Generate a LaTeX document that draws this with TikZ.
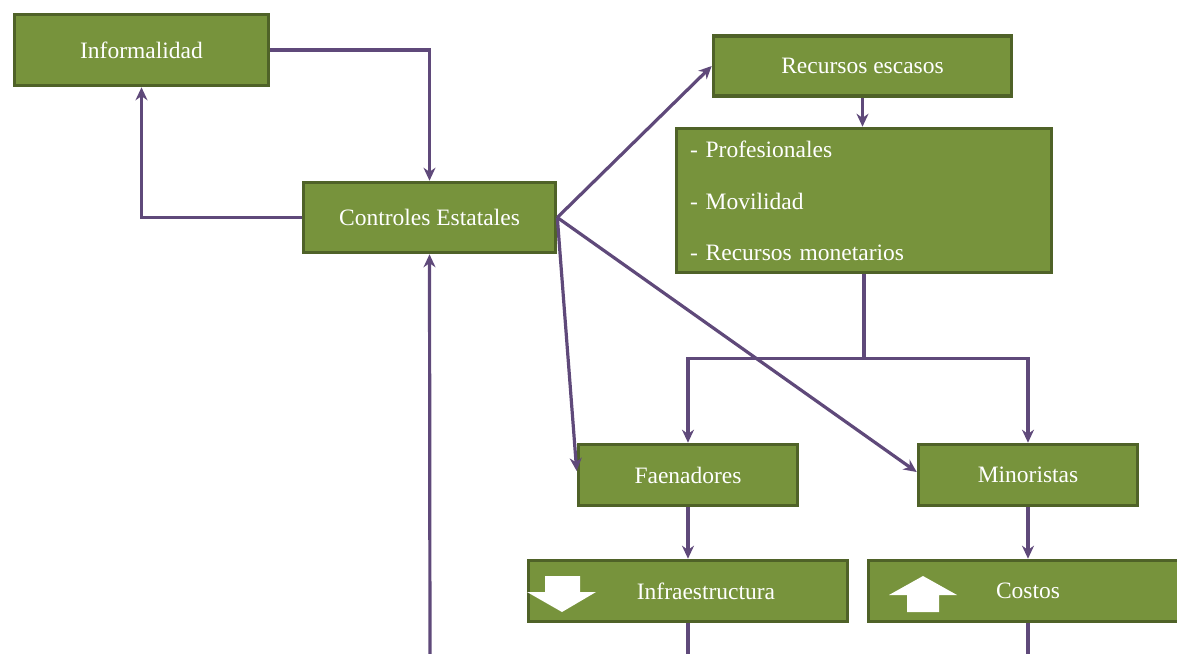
\documentclass[tikz,border=0pt]{standalone}
\usepackage{fontspec}
\setmainfont{Liberation Serif}
\usepackage{tikz}
\usetikzlibrary{arrows.meta}
\definecolor{olivefill}{HTML}{77933C}
\definecolor{oliveline}{HTML}{4F6228}
\definecolor{linkpurple}{HTML}{5F497A}

\begin{document}
\begin{tikzpicture}[x=1pt,y=-1pt,
    box/.style={draw=oliveline,fill=olivefill,line width=3.6pt,text=white,
      font=\fontsize{23.5}{28}\selectfont,inner sep=0pt},
    link/.style={draw=linkpurple,line width=3.2pt},
    >={Stealth[length=13pt,width=12pt]}]
    \useasboundingbox (0,0) rectangle (1177,653);
    % boxes
    \node[box,minimum width=254,minimum height=71] (info) at (141.5,50) {Informalidad};
    \node[box,minimum width=252,minimum height=70] (ctrl) at (429.5,217.5) {Controles Estatales};
    \node[box,minimum width=298,minimum height=60] (rec) at (862.5,66) {Recursos escasos};
    \node[box,minimum width=375,minimum height=144,align=left,text width=348] (lista) at (864,200.5)
      {- Profesionales\\[24pt]- Movilidad\\[23pt]- Recursos monetarios};
    \node[box,minimum width=219,minimum height=61] (faen) at (688,475) {Faenadores};
    \node[box,minimum width=219,minimum height=61] (mino) at (1028,475) {Minoristas};
    \node[box,minimum width=319,minimum height=61] (infra) at (688,591) {\hspace{36pt}Infraestructura};
    \node[box,minimum width=319,minimum height=61] (cost) at (1028,591) {Costos};
    % up and down marks
    \fill[white] (545,576) -- (580,576) -- (580,592) -- (596,592) -- (562,612)
      -- (527,592) -- (545,592) -- cycle;
    \fill[white] (923,576) -- (957,595) -- (939,595) -- (939,612) -- (907,612)
      -- (907,595) -- (889,595) -- cycle;
    % connectors
    \coordinate (foot) at (430,670);
    \coordinate (infrafoot) at (688,670);
    \coordinate (costfoot) at (1028,670);
    \draw[link,->] (info.east) -| (ctrl.north);
    \draw[link,->] (ctrl.west) -| (info.south);
    \draw[link,->] (foot) -- (ctrl.south);
    \draw[link,->] (ctrl.east) -- (rec.west);
    \draw[link,->] (ctrl.east) -- ([yshift=4pt]faen.west);
    \draw[link,->] (ctrl.east) -- ([yshift=3pt]mino.west);
    \draw[link,->] (rec.south) -- (rec.south |- lista.north);
    \draw[link] (lista.south) -- ++(0,84) coordinate (split);
    \draw[link,->] (split) -| (faen.north);
    \draw[link,->] (split) -| (mino.north);
    \draw[link,->] (faen.south) -- (infra.north);
    \draw[link,->] (mino.south) -- (cost.north);
    \draw[link] (infra.south) -- (infrafoot);
    \draw[link] (cost.south) -- (costfoot);
\end{tikzpicture}
\end{document}
